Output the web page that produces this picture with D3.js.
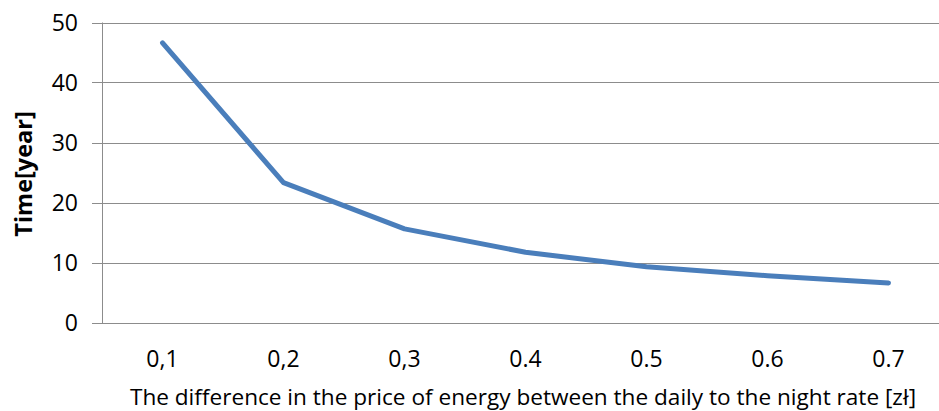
<!DOCTYPE html>
<html><head><meta charset="utf-8">
<script src="https://cdn.jsdelivr.net/npm/d3@7"></script>
<style>
html,body{margin:0;padding:0;background:#fff;}
svg{display:block;}
text{font-family:"Open Sans","Noto Sans",sans-serif;fill:#000;}
</style></head>
<body><svg id="c" width="939" height="411"></svg>
<script>
const categories = ["0,1","0,2","0,3","0.4","0.5","0.6","0.7"];
const timeValues = [46.6, 23.3, 15.6, 11.7, 9.3, 7.8, 6.6];
const yTicks = [0,10,20,30,40,50];
const xTitle = "The difference in the price of energy between the daily to the night rate [zł]";
const yTitle = "Time[year]";

const svg = d3.select("#c");
const pLeft = 102, pRight = 949, pTop = 22.5, pBottom = 322.5;

const x = d3.scaleBand().domain(categories).range([pLeft, pRight]);
const y = d3.scaleLinear().domain([0,50]).range([pBottom, pTop]);

// gridlines + tick marks
svg.append("g").selectAll("line").data(yTicks).join("line")
  .attr("x1", 92).attr("x2", 939)
  .attr("y1", d => Math.round(y(d))+0.5).attr("y2", d => Math.round(y(d))+0.5)
  .attr("stroke", "#8c8c8c").attr("stroke-width", 1);

// y axis line
svg.append("line").attr("x1", pLeft+0.5).attr("x2", pLeft+0.5)
  .attr("y1", pTop).attr("y2", pBottom+0.5)
  .attr("stroke", "#8c8c8c").attr("stroke-width", 1);

// y tick labels
svg.append("g").selectAll("text").data(yTicks).join("text")
  .attr("x", 78).attr("y", d => y(d))
  .attr("dy", "0.36em").attr("text-anchor", "end")
  .attr("font-size", 23).text(d => d);

// x tick labels
svg.append("g").selectAll("text").data(categories).join("text")
  .attr("x", d => x(d) + x.bandwidth()/2).attr("y", 367)
  .attr("text-anchor", "middle").attr("font-size", 23).text(d => d);

// line
const line = d3.line().x((d,i) => x(categories[i]) + x.bandwidth()/2).y(d => y(d));
svg.append("path").datum(timeValues)
  .attr("d", line).attr("fill", "none")
  .attr("stroke", "#4a7ebb").attr("stroke-width", 5)
  .attr("stroke-linejoin", "round").attr("stroke-linecap", "round");

// axis titles
svg.append("text").attr("x", 523).attr("y", 405)
  .attr("text-anchor", "middle").attr("font-size", 22.6).text(xTitle);

svg.append("text").attr("transform", "translate(32,174) rotate(-90)")
  .attr("text-anchor", "middle").attr("font-size", 23.5).attr("font-weight", "bold").text(yTitle);
</script>
</body></html>
